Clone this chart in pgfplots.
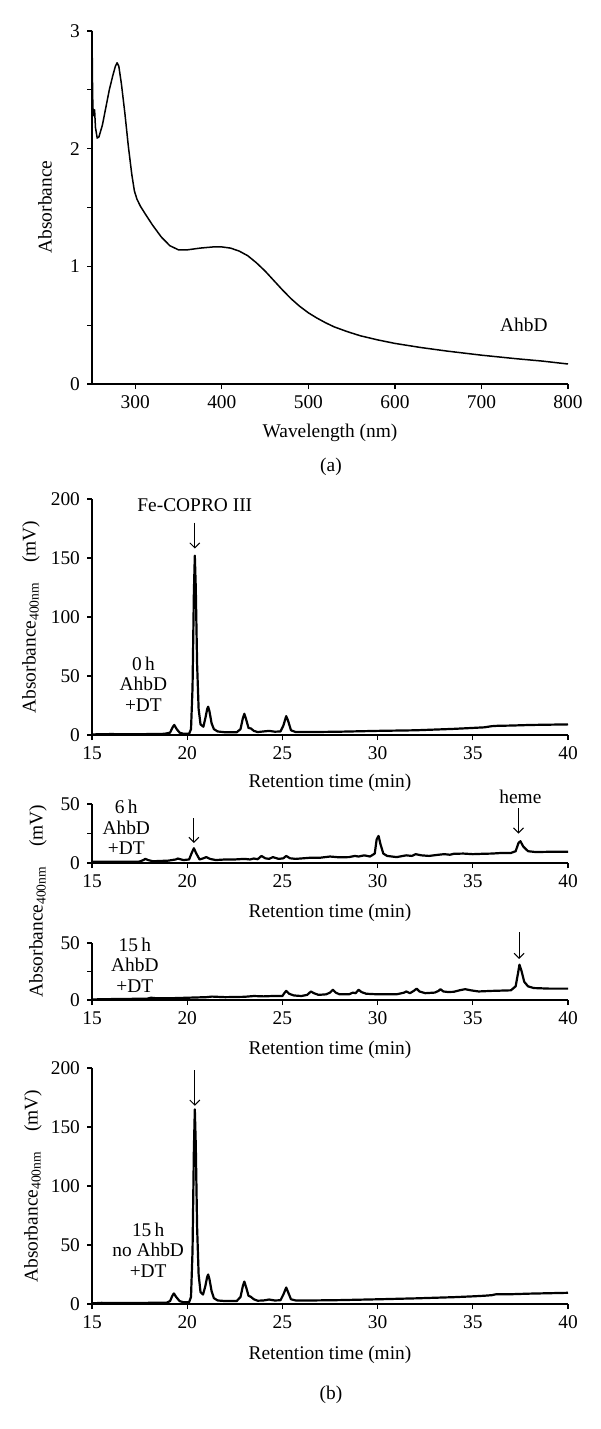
\documentclass[border=0pt]{standalone}
\usepackage{fontspec}
\setmainfont{Liberation Serif}
\usepackage{pgfplots}
\pgfplotsset{compat=1.18}
\usetikzlibrary{arrows.meta}

\newcommand{\fs}{\fontsize{9.7}{10.2}\selectfont}
\pgfplotsset{
  panel/.style={
    scale only axis, width=238pt,
    axis lines=left, axis line style={-, line width=0.6pt},
    tick align=outside, major tick length=2.5pt, minor tick length=2.5pt,
    tick style={line width=0.6pt, black},
    every tick label/.append style={font=\fs},
    /pgf/number format/assume math mode=true,
    clip=false, anchor=south west,
  },
  chrom/.style={panel, xmin=15, xmax=40, xtick={15,20,...,40}},
  trace/.style={black, line width=1.1pt, line join=round},
}
\tikzset{arr/.style={-{Straight Barb[length=2.5pt,width=5pt]}, line width=0.5pt}}

\begin{document}
\begin{tikzpicture}
\path[use as bounding box] (0,0) rectangle (300pt,-714.5pt);

% (a) absorption spectrum
\begin{axis}[panel, at={(46pt,-192pt)}, height=176.5pt,
  xmin=250, xmax=800, ymin=0, ymax=3,
  xtick={300,400,...,800}, ytick={0,1,2,3}, minor ytick={0.5,1.5,2.5}]
\addplot[black, line width=0.75pt, line join=round] coordinates {
(250,3.0)(250.5,2.6)(251,2.35)(252,2.28)(253,2.33)(254,2.18)(256,2.09)(258,2.10)
(262,2.2)(266,2.35)(270,2.5)(274,2.62)(277,2.7)(279,2.73)(281,2.7)(284,2.55)
(288,2.3)(292,2.02)(296,1.78)(299,1.64)(302,1.57)(306,1.51)(312,1.44)(320,1.35)
(330,1.25)(340,1.175)(350,1.14)(360,1.14)(375,1.155)(390,1.165)(400,1.165)
(410,1.155)(420,1.13)(430,1.09)(440,1.03)(450,0.96)(460,0.88)(470,0.80)(480,0.725)
(490,0.66)(500,0.605)(510,0.56)(520,0.52)(530,0.485)(545,0.445)(560,0.41)(580,0.375)
(600,0.345)(630,0.31)(660,0.28)(700,0.245)(740,0.215)(770,0.195)(800,0.17)};
\node[font=\fs] at (axis cs:749,0.5) {AhbD};
\end{axis}
\node[rotate=90, font=\fs] at (22.5pt,-103.5pt) {Absorbance};
\node[font=\fs] at (165pt,-216.5pt) {Wavelength (nm)};
\node[font=\fs] at (165.5pt,-233.5pt) {(a)};

% (b) 0 h
\begin{axis}[chrom, at={(46pt,-367.5pt)}, height=118pt,
  ymin=0, ymax=200, ytick={0,50,...,200}]
\addplot[trace] coordinates {
(15,0.5)(16,0.8)(17,0.6)(18,0.8)(18.8,1)(19.1,2)(19.25,7)(19.32,8.5)(19.45,5)
(19.6,2)(19.8,1)(20.1,1)(20.2,5)(20.28,40)(20.35,120)(20.4,152)(20.45,125)
(20.52,60)(20.6,22)(20.7,9)(20.85,7)(20.95,14)(21.05,22)(21.1,24)(21.17,20)
(21.28,10)(21.4,5)(21.6,3)(22,2.3)(22.6,2.3)(22.8,5)(22.92,14)(23.0,18)(23.1,13)
(23.22,6)(23.35,5.5)(23.5,3.5)(23.7,2.5)(24,3)(24.3,3.5)(24.6,2.8)(24.9,3)
(25.05,8)(25.2,16)(25.3,12)(25.45,4)(25.7,2.5)(26.5,2.5)(28,2.8)(30,3.5)(32,4)
(34,5.2)(35,6)(35.6,6.5)(36,7.5)(36.3,7.8)(37,8)(38,8.5)(40,9)};
\node[font=\fs] at (axis cs:20.4,195) {Fe-COPRO III};
\draw[arr] (axis cs:20.4,180) -- (axis cs:20.4,158);
\node[font=\fs, align=center] at (axis cs:17.7,43) {0\,h\\AhbD\\+DT};
\end{axis}
\node[rotate=90, font=\fs] at (15.5pt,-308.5pt) {Absorbance\textsubscript{400nm}\quad(mV)};
\node[font=\fs] at (165pt,-391.5pt) {Retention time (min)};

% (b) 6 h
\begin{axis}[chrom, at={(46pt,-431.5pt)}, height=29.5pt,
  ymin=0, ymax=50, ytick={0,50}, minor ytick={25}]
\addplot[trace] coordinates {
(15,1)(16.5,1.1)(17.5,1.2)(17.7,2.5)(17.8,3.5)(17.95,2.5)(18.2,1.5)(19,2)(19.4,3)
(19.5,3.8)(19.8,2.5)(20.1,3)(20.25,9)(20.35,12.5)(20.48,8)(20.65,3)(20.85,4)(21.0,5)
(21.2,3.5)(21.5,2.5)(22,3)(22.5,3)(23,3.5)(23.3,3)(23.5,3.8)(23.7,3.2)(23.9,6)
(24.1,4)(24.3,3.5)(24.5,5)(24.8,3.5)(25.05,4)(25.2,6)(25.4,4)(25.7,3.5)(26.5,4.5)
(27,4.5)(27.5,5.5)(28,4.8)(28.5,5)(28.8,6)(29,5.5)(29.3,6.5)(29.6,5.5)(29.85,8)
(29.95,20)(30.05,23)(30.15,16)(30.3,8)(30.5,6)(31,5)(31.5,6.5)(31.8,6)(32,7.5)
(32.3,6.5)(32.7,6)(33.2,7)(33.5,7.5)(33.8,7)(34,7.8)(34.5,8)(35,7.5)(35.5,7.8)
(36,8)(36.5,8.5)(37,8.5)(37.25,10)(37.4,17)(37.5,18.5)(37.65,14)(37.9,10)(38.3,9.3)
(39,9.5)(40,9.5)};
\node[font=\fs] at (axis cs:37.5,56) {heme};
\draw[arr] (axis cs:37.4,46.6) -- (axis cs:37.4,25);
\draw[arr] (axis cs:20.35,38) -- (axis cs:20.35,17);
\node[font=\fs, align=center] at (axis cs:16.8,30) {6\,h\\AhbD\\+DT};
\end{axis}
\node[font=\fs] at (165pt,-456.5pt) {Retention time (min)};

% (b) 15 h
\begin{axis}[chrom, at={(46pt,-500pt)}, height=28.5pt,
  ymin=0, ymax=50, ytick={0,50}, minor ytick={25}]
\addplot[trace] coordinates {
(15,0.5)(16,0.8)(17,1)(17.9,1.2)(18.1,2)(18.4,1.5)(19,1.5)(20,2)(21,2.5)(21.3,3)
(22,2.5)(23,2.8)(23.5,3.5)(24,3.2)(24.5,3.5)(25.0,3.5)(25.1,6)(25.2,8)(25.35,5.5)
(25.6,4)(26,3.5)(26.3,4.5)(26.5,7.5)(26.65,6)(26.9,4.5)(27.3,5)(27.5,6.5)(27.65,9)
(27.8,6.5)(28,5)(28.5,5)(28.7,6.5)(28.85,6)(29,9)(29.15,7)(29.4,5.5)(30,5)(31,5)
(31.4,6.5)(31.5,7.5)(31.7,6)(31.9,8)(32.05,10)(32.2,7.5)(32.5,6)(33,6.5)(33.2,8)
(33.3,9.5)(33.45,7.5)(33.7,7)(34,7.2)(34.3,8.5)(34.6,9.5)(34.9,8.5)(35.3,7.5)(36,8)
(37,8.5)(37.25,12)(37.38,24)(37.45,31)(37.55,26)(37.7,16)(37.9,12)(38.2,10.5)
(39,10)(40,10)};
\draw[arr] (axis cs:37.43,59.6) -- (axis cs:37.43,36);
\node[font=\fs, align=center] at (axis cs:17.25,30.7) {15\,h\\AhbD\\+DT};
\end{axis}
\node[rotate=90, font=\fs] at (19pt,-450.5pt) {Absorbance\textsubscript{400nm}\quad(mV)};
\node[font=\fs] at (165pt,-525pt) {Retention time (min)};

% (b) 15 h, no AhbD
\begin{axis}[chrom, at={(46pt,-652pt)}, height=118pt,
  ymin=0, ymax=200, ytick={0,50,...,200}]
\addplot[trace] coordinates {
(15,0.5)(15.5,1)(16,0.8)(17,0.8)(18,1)(18.9,1)(19.1,2.5)(19.22,7)(19.3,9)(19.42,6)
(19.6,2.5)(19.8,1.5)(20.1,1.5)(20.2,6)(20.28,45)(20.35,130)(20.4,165)(20.45,135)
(20.52,65)(20.6,25)(20.7,10)(20.83,8)(20.95,15)(21.05,23)(21.1,25)(21.17,21)
(21.28,11)(21.4,5)(21.6,3)(22,2.5)(22.6,2.5)(22.8,6)(22.92,15)(23.0,19)(23.1,14)
(23.22,7)(23.35,6)(23.5,4)(23.7,2.8)(24,3)(24.3,3.8)(24.6,3)(24.9,3.2)(25.05,8)
(25.2,14)(25.3,10)(25.45,4)(25.7,3)(26.5,3)(28,3.3)(30,4)(32,4.8)(34,5.8)(35,6.5)
(35.6,7)(36,7.5)(36.2,8.2)(37,8.3)(38,8.8)(40,9.5)};
\draw[arr] (axis cs:20.4,198) -- (axis cs:20.4,168);
\node[font=\fs, align=center] at (axis cs:17.95,45.8) {15\,h\\no AhbD\\+DT};
\end{axis}
\node[rotate=90, font=\fs] at (16.5pt,-593pt) {Absorbance\textsubscript{400nm}\quad(mV)};
\node[font=\fs] at (165pt,-677.5pt) {Retention time (min)};
\node[font=\fs] at (165.5pt,-697.5pt) {(b)};
\end{tikzpicture}
\end{document}
